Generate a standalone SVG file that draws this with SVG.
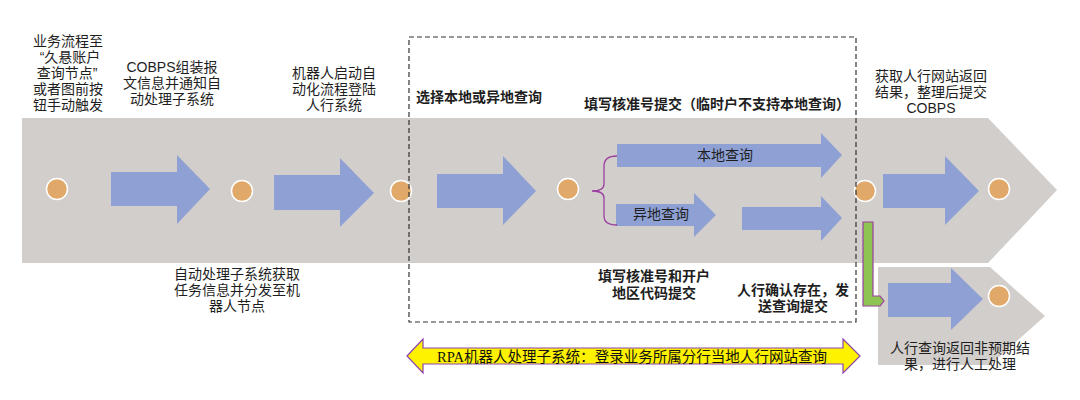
<svg xmlns="http://www.w3.org/2000/svg" width="1080" height="400" viewBox="0 0 1080 400">
<defs>
<style>
.band{fill:#D2CECB}
.arr{fill:#8FA1D4}
.dot{fill:#E0A96A;stroke:#FFFFFF;stroke-width:1.5}
.t{font-family:"Liberation Sans","Noto Sans CJK SC",sans-serif;font-size:14px;fill:#1E1E1E;text-anchor:middle}
.b{font-weight:bold}
.dash{fill:none;stroke:#333333;stroke-width:1.2;stroke-dasharray:5 3}
</style>
</defs>
<rect width="1080" height="400" fill="#FFFFFF"/>
<g id="bands">
<polygon class="band" points="22,118 988,118 1057,190 988,263 22,263"/>
<polygon class="band" points="878,267 990,267 1045,316 990,365 878,365"/>
</g>
<g id="connectors">
<polygon class="arr" points="111,172 177,172 177,155 210,189 177,224 177,206 111,206"/>
<polygon class="arr" points="274,175 340,175 340,158 374,193 340,227 340,210 274,210"/>
<polygon class="arr" points="437,174 503,174 503,156 536,191 503,225 503,208 437,208"/>
<polygon class="arr" points="617,144 821,144 821,133 842,155 821,178 821,167 617,167"/>
<polygon class="arr" points="616,204 694,204 694,193 716,215 694,237 694,226 616,226"/>
<polygon class="arr" points="742,207 821,207 821,196 842,218 821,241 821,230 742,230"/>
<polygon class="arr" points="883,174 945,174 945,156 979,191 945,225 945,208 883,208"/>
<polygon class="arr" points="888,283 951,283 951,268 983,299 951,330 951,317 888,317"/>
<path d="M617,156 Q604,156 604,166 L604,184 Q604,191 592,191 Q604,191 604,198 L604,216 Q604,225 617,225" fill="none" stroke="#9B3FA0" stroke-width="1.3"/>
<polygon points="863,222 873,222 873,296 880,296 884,301 880,306 863,306" fill="#8DC452" stroke="#9B3FA0" stroke-width="1.2"/>
</g>
<g id="n1"><circle class="dot" cx="57" cy="189" r="10.5"/>
<text class="t"><tspan x="68" y="46">业务流程至</tspan><tspan x="70" y="62">“久悬账户</tspan><tspan x="67" y="78">查询节点”</tspan><tspan x="68" y="94">或者图前按</tspan><tspan x="68" y="110">钮手动触发</tspan></text></g>
<g id="n2"><circle class="dot" cx="242" cy="191" r="10.5"/>
<text class="t"><tspan x="172" y="72">COBPS组装报</tspan><tspan x="172" y="88">文信息并通知自</tspan><tspan x="172" y="104">动处理子系统</tspan></text>
<text class="t"><tspan x="237" y="279">自动处理子系统获取</tspan><tspan x="237" y="295">任务信息并分发至机</tspan><tspan x="237" y="311">器人节点</tspan></text></g>
<g id="n3"><circle class="dot" cx="401" cy="191" r="10.5"/>
<text class="t"><tspan x="334" y="78">机器人启动自</tspan><tspan x="334" y="94">动化流程登陆</tspan><tspan x="334" y="110">人行系统</tspan></text></g>
<g id="n4"><circle class="dot" cx="568" cy="189" r="10.5"/>
<text class="t b" x="479" y="102">选择本地或异地查询</text>
<text class="t b" x="717" y="109">填写核准号提交（临时户不支持本地查询）</text>
<text class="t" x="725" y="160">本地查询</text>
<text class="t" x="661" y="219">异地查询</text>
<text class="t b"><tspan x="654" y="281">填写核准号和开户</tspan><tspan x="654" y="298">地区代码提交</tspan></text>
<text class="t b"><tspan x="793" y="295">人行确认存在，发</tspan><tspan x="793" y="311">送查询提交</tspan></text></g>
<g id="n5"><circle class="dot" cx="865" cy="191" r="10.5"/>
<text class="t"><tspan x="931" y="81">获取人行网站返回</tspan><tspan x="931" y="97">结果，整理后提交</tspan><tspan x="931" y="113">COBPS</tspan></text></g>
<g id="n6"><circle class="dot" cx="999" cy="189" r="10.5"/></g>
<g id="n7"><circle class="dot" cx="999" cy="296" r="10.5"/>
<text class="t"><tspan x="960" y="353">人行查询返回非预期结</tspan><tspan x="960" y="369">果，进行人工处理</tspan></text></g>
<g id="rpa-box"><rect class="dash" x="409" y="37" width="447" height="285"/></g>
<g id="rpa-arrow">
<polygon points="407,356 423,339 423,348 843,348 843,339 860,356 843,373 843,364 423,364 423,373" fill="#FFF200" stroke="#8E44AD" stroke-width="1.2"/>
<text x="632" y="362" font-family="'Liberation Serif','Noto Sans CJK SC',serif" font-size="14.5" fill="#111" text-anchor="middle" textLength="390" lengthAdjust="spacingAndGlyphs">RPA机器人处理子系统：登录业务所属分行当地人行网站查询</text>
</g>
</svg>
